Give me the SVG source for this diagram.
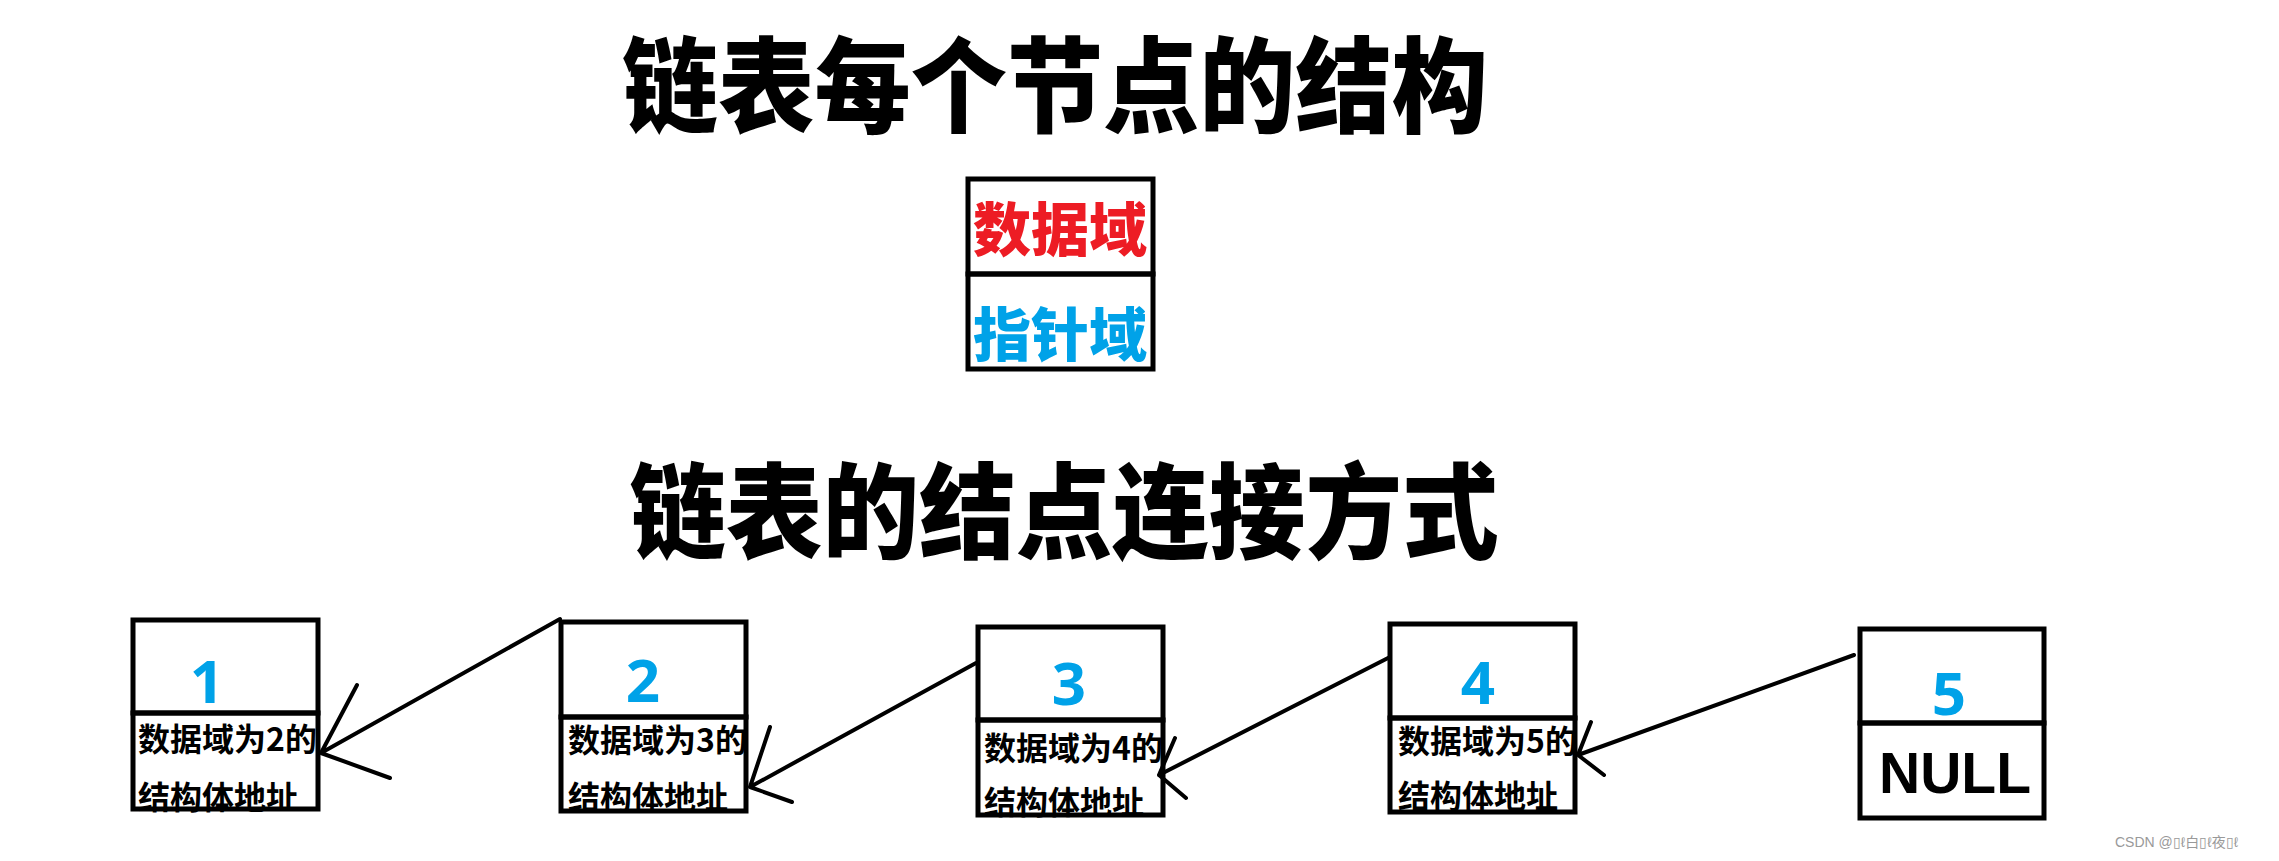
<svg xmlns="http://www.w3.org/2000/svg" width="2279" height="861" viewBox="0 0 2279 861">
<style>
.cjk{font-family:"Noto Sans CJK SC","Noto Sans",sans-serif}
.title{font-size:104px;font-weight:900;fill:#000}
.field{font-size:58px;font-weight:900}
.txt{font-size:32px;font-weight:700;fill:#000}
.num{font-family:"Noto Sans","Liberation Sans",sans-serif;font-size:60px;font-weight:700;fill:#00A2E8}
.box{fill:none;stroke:#000;stroke-width:5}
.conn{fill:none;stroke:#000;stroke-width:4;stroke-linecap:round;stroke-linejoin:round}
</style>
<rect width="2279" height="861" fill="#fff"/>
<g id="title1"><text class="cjk title" x="1055" y="125" text-anchor="middle" textLength="866" lengthAdjust="spacingAndGlyphs">链表每个节点的结构</text></g>
<g id="structure">
<text class="cjk field" x="1060" y="251" text-anchor="middle" fill="#ED1C24">数据域</text>
<text class="cjk field" x="1060" y="356" text-anchor="middle" fill="#00A2E8">指针域</text>
<rect class="box" x="968" y="179" width="185" height="95"/>
<rect class="box" x="968" y="274" width="185" height="95"/>
</g>
<g id="title2"><text class="cjk title" x="1064" y="551" text-anchor="middle" textLength="869" lengthAdjust="spacingAndGlyphs">链表的结点连接方式</text></g>
<g id="node1">
<text class="num" x="207" y="703" text-anchor="middle">1</text>
<text class="cjk txt" x="138" y="751">数据域为2的</text>
<text class="cjk txt" x="138" y="809">结构体地址</text>
<rect class="box" x="133" y="620" width="185" height="93"/>
<rect class="box" x="133" y="713" width="185" height="96"/>
</g>
<g id="node2">
<text class="num" x="643" y="702" text-anchor="middle">2</text>
<text class="cjk txt" x="568" y="752">数据域为3的</text>
<text class="cjk txt" x="568" y="809">结构体地址</text>
<rect class="box" x="561" y="622" width="185" height="95"/>
<rect class="box" x="561" y="717" width="185" height="94"/>
</g>
<g id="node3">
<text class="num" x="1069" y="705" text-anchor="middle">3</text>
<text class="cjk txt" x="984" y="760">数据域为4的</text>
<text class="cjk txt" x="984" y="814">结构体地址</text>
<rect class="box" x="978" y="627" width="185" height="93"/>
<rect class="box" x="978" y="720" width="185" height="95"/>
</g>
<g id="node4">
<text class="num" x="1478" y="704" text-anchor="middle">4</text>
<text class="cjk txt" x="1398" y="753">数据域为5的</text>
<text class="cjk txt" x="1398" y="808">结构体地址</text>
<rect class="box" x="1390" y="624" width="185" height="94"/>
<rect class="box" x="1390" y="718" width="185" height="94"/>
</g>
<g id="node5">
<text class="num" x="1949" y="715" text-anchor="middle">5</text>
<text x="1955" y="793" text-anchor="middle" font-family="Liberation Sans, Arial, sans-serif" font-weight="700" font-size="57" fill="#000">NULL</text>
<rect class="box" x="1860" y="629" width="184" height="94"/>
<rect class="box" x="1860" y="723" width="184" height="95"/>
</g>
<g id="connectors">
<path class="conn" d="M560 619 L321 753 M357 685 L321 753 L390 778"/>
<path class="conn" d="M976 663 L750 787 M770 727 L750 787 L792 802"/>
<path class="conn" d="M1390 657 L1159 775 M1175 738 L1159 775 L1186 798"/>
<path class="conn" d="M1854 655 L1578 755 M1591 722 L1578 755 L1604 775"/>
</g>
<g id="watermark"><text x="2115" y="847" font-family="Liberation Sans, Noto Sans CJK SC, sans-serif" font-size="14" fill="#999">CSDN @▯ℓ白▯ℓ夜▯ℓ</text></g>
</svg>
